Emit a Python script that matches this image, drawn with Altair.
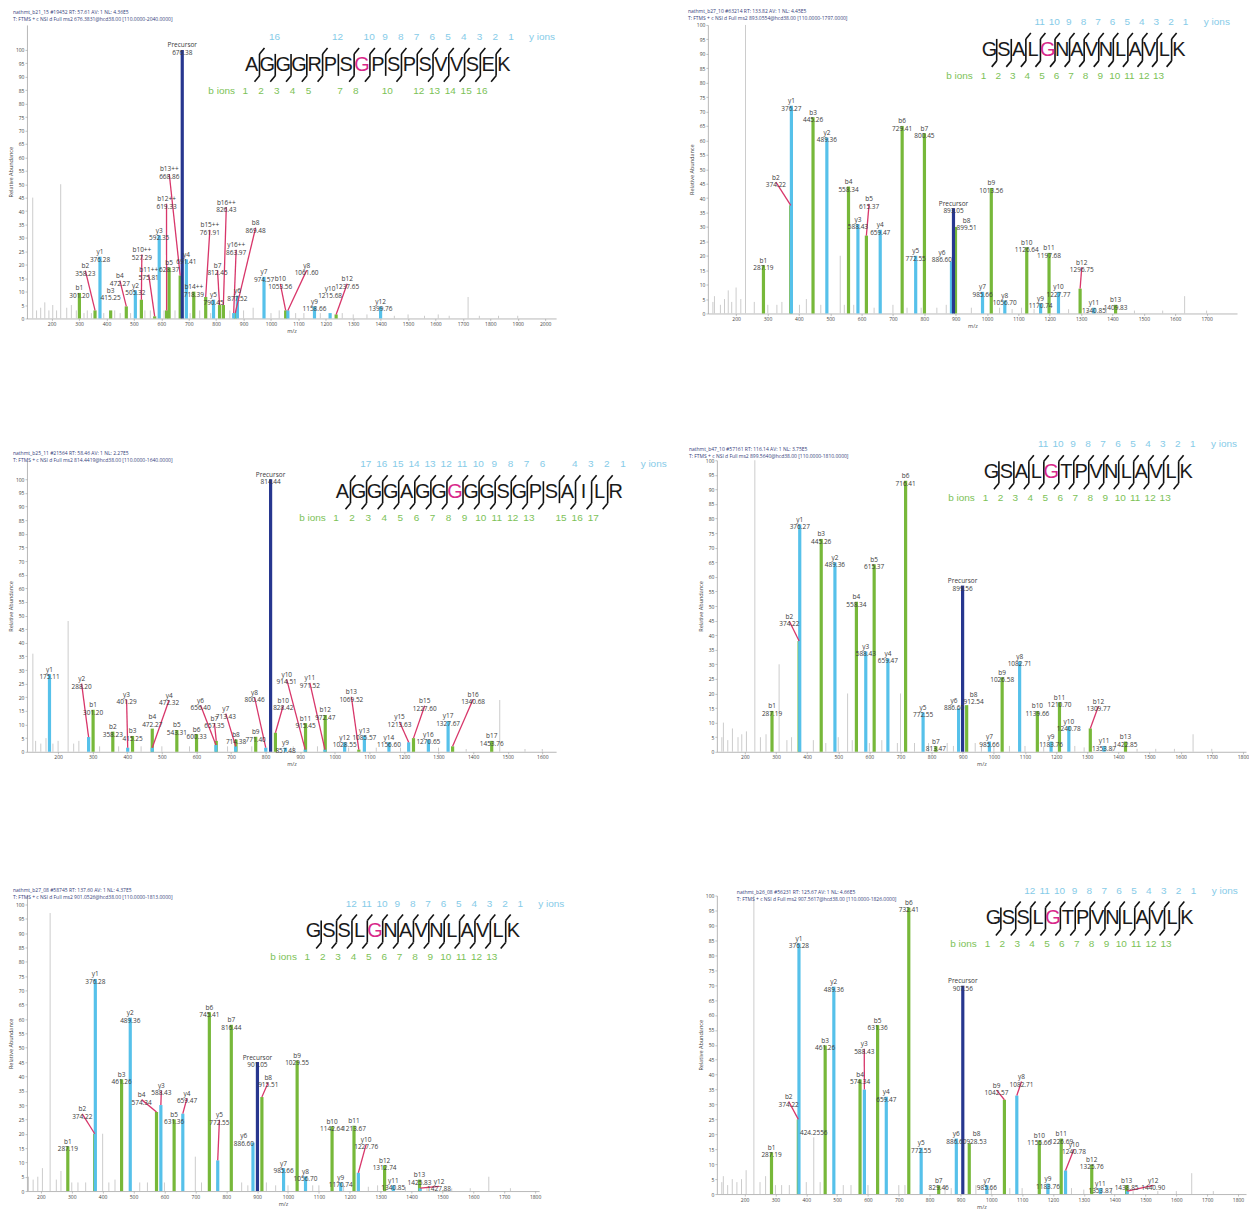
import altair as alt
import pandas as pd

GREEN = "#77b83a"
BLUE = "#56c1ea"
NAVY = "#27378f"
GREY = "#cccccc"
RED = "#d8366a"
SITE = "#d8288a"
TXT = "#3a3a3a"
HEADC = "#34407a"
NUM_Y = "#86cbe8"
NUM_B = "#7cc257"

# ---------------- Panel 1 ----------------
P1_HEAD = ["nathmt_b21_15 #19452  RT: 57.61  AV: 1  NL: 4.36E5",
           "T: FTMS + c NSI d Full ms2 676.3831@hcd38.00 [110.0000-2040.0000]"]
P1_SEQ = "AGGGRPSGPSPSVVSEK"
P1_SITE = 8
P1_B = [1, 2, 3, 4, 5, 7, 8, 10, 12, 13, 14, 15, 16]
P1_Y = [16, 12, 10, 9, 8, 7, 6, 5, 4, 3, 2, 1]
P1_ION = ["b1", "b2", "y1", "b3", "b4", "y2", "b10++", "b11++", "y3", "b12++", "b5", "b13++", "Precursor",
          "y4", "b14++", "b15++", "y5", "b7", "b16++", "y16++", "y6", "b8", "y7", "b10", "y8", "y9", "y10",
          "b12", "y12"]
P1_MZ = [301.20, 358.23, 376.28, 415.25, 472.27, 505.32, 527.29, 575.81, 592.35, 619.33, 628.37, 668.86, 676.38,
         691.41, 718.39, 761.91, 790.45, 812.45, 826.43, 863.97, 877.52, 869.48, 974.57, 1053.56, 1061.60, 1158.66,
         1215.68, 1237.65, 1399.76]
P1_INT = [9.5, 3, 23, 3, 4.5, 10.5, 7, 0.8, 31, 3, 19, 16, 100, 22, 10, 8, 7, 5, 5, 2, 8.5, 2, 15.5, 3, 3, 4.5,
          2, 1.5, 4.5]
P1_NOISE_MZ = [131, 145, 160, 175, 190, 204, 218, 233, 255, 272, 290, 318, 330, 345, 390, 430, 450, 488, 540, 560,
               610, 650, 705, 740, 780, 850, 900, 935, 1000, 1030, 1090, 1120, 1180, 1260, 1300, 1350, 1450, 1500,
               1560, 1610, 1650, 1719, 1760, 1830, 1900]
P1_NOISE_INT = [45, 3, 4, 6, 3, 5, 3, 50, 4, 5, 3, 2, 3, 2, 2, 3, 2, 2, 3, 3, 3, 3, 2, 3, 2, 3, 3, 4, 2, 3, 2, 2,
                2, 2, 1.5, 1.5, 1, 1.5, 1, 1.5, 1, 8, 1, 1, 1]
P1_MOVED = {"b2": (323, 17.8), "b3": (415.25, 8.7, False), "b4": (449, 14.1), "b10++": (529, 23.8),
            "b11++": (554, 16.3), "b12++": (619, 42.7), "b13++": (629, 53.8), "b15++": (777, 33),
            "b7": (805, 18), "b16++": (837, 41.5), "y16++": (873, 25.6), "b8": (944, 33.8),
            "b10": (1034, 12.9), "y8": (1130, 17.9), "y10": (1215.68, 9.4, False), "b12": (1278, 12.9)}
P1_NOTE_MZ, P1_NOTE_INT, P1_NOTE_TEXT = [], [], []

# ---------------- Panel 2 ----------------
P2_HEAD = ["nathmt_b27_10 #63214  RT: 133.82  AV: 1  NL: 4.45E5",
           "T: FTMS + c NSI d Full ms2 893.0554@hcd38.00 [110.0000-1797.0000]"]
P2_SEQ = "GSALGNAVNLAVLK"
P2_SITE = 5
P2_B = list(range(1, 14))
P2_Y = list(range(11, 0, -1))
P2_ION = ["b1", "b2", "y1", "b3", "y2", "b4", "y3", "b5", "y4", "b6", "y5", "b7", "y6", "Precursor", "b8", "y7",
          "b9", "y8", "b10", "y9", "b11", "y10", "b12", "y11", "b13"]
P2_MZ = [287.19, 374.22, 376.27, 445.26, 489.36, 558.34, 588.43, 615.37, 659.47, 729.41, 772.55, 800.45, 886.60,
         893.05, 899.51, 985.66, 1013.56, 1056.70, 1126.64, 1170.74, 1197.68, 1227.77, 1296.75, 1340.85, 1409.83]
P2_INT = [16.7, 37.5, 72, 68, 61, 44, 31, 27, 29, 65, 20, 62.5, 18, 36.5, 30, 7.5, 43.5, 4.5, 23, 3.5, 21, 7.5,
          8.6, 2, 3]
P2_NOISE_MZ = [126, 131, 150, 163, 175, 186, 200, 215, 230, 258, 301, 330, 346, 402, 424, 470, 532, 545, 575, 640,
               700, 745, 790, 840, 870, 950, 1040, 1080, 1110, 1150, 1260, 1320, 1380, 1470, 1560, 1630, 1700]
P2_NOISE_INT = [4, 6, 3, 5, 8, 4, 9, 5, 100, 4, 3, 3, 4, 3, 5, 3, 20, 3, 3, 2, 3, 2, 2, 2, 3, 2, 2, 1.5, 2, 1.5,
                1.5, 1, 1.5, 1, 1, 6, 1]
P2_MOVED = {"b2": (327, 45.5), "b5": (624, 38), "y6": (856, 19.5, False), "b8": (935, 30.5, False),
            "b12": (1302, 16)}
P2_NOTE_MZ, P2_NOTE_INT, P2_NOTE_TEXT = [], [], []

# ---------------- Panel 3 ----------------
P3_HEAD = ["nathmt_b25_11 #21564  RT: 58.46  AV: 1  NL: 2.27E5",
           "T: FTMS + c NSI d Full ms2 814.4419@hcd38.00 [110.0000-1640.0000]"]
P3_SEQ = "AGGGAGGGGGSGPSAILR"
P3_SITE = 8
P3_B = list(range(1, 14)) + [15, 16, 17]
P3_Y = list(range(17, 5, -1)) + [4, 3, 2, 1]
P3_ION = ["y1", "y2", "b1", "b2", "y3", "b3", "b4", "y4", "b5", "b6", "y6", "b7", "y7", "b8", "b9", "y8",
          "Precursor", "b10", "y9", "y10", "b11", "y11", "b12", "y12", "b13", "y13", "y14", "y15", "b15", "y16",
          "y17", "b16", "b17"]
P3_MZ = [175.11, 288.20, 301.20, 358.23, 401.29, 415.25, 472.27, 472.32, 543.31, 600.33, 656.40, 657.35, 713.43,
         714.38, 771.40, 800.46, 814.44, 828.42, 857.48, 914.51, 915.45, 971.52, 972.47, 1028.55, 1069.52,
         1085.57, 1156.60, 1213.63, 1227.60, 1270.65, 1327.67, 1340.68, 1453.76]
P3_INT = [28.5, 5.4, 15.4, 7.4, 1.5, 5.8, 8.5, 1.5, 8, 6.5, 2.5, 4, 2, 4.5, 5.5, 1.5, 100, 7, 1.5, 0.8, 10.5,
          0.8, 13.5, 3.5, 0.8, 6, 3.5, 3.5, 5, 4.5, 11.3, 2, 4]
P3_NOISE_MZ = [127, 135, 150, 165, 185, 200, 229, 245, 260, 320, 375, 440, 500, 580, 690, 760, 880, 950, 1040,
               1120, 1190, 1300, 1380, 1477, 1550, 1600]
P3_NOISE_INT = [36, 4, 3, 5, 3, 4, 48, 3, 4, 2, 2, 2, 2, 2, 2, 2, 2, 2, 1.5, 1.5, 1.5, 1.5, 1, 19, 1, 1]
P3_MOVED = {"y2": (268, 25), "y3": (398, 19.2), "y4": (521, 19), "b4": (472.27, 11, False), "y6": (612, 17.1),
            "b7": (652, 10.5), "y7": (685, 14), "y8": (768, 20), "b10": (851, 17), "y10": (861, 26.6),
            "y11": (928, 25.3), "b13": (1048, 20.2), "y15": (1187, 11), "b15": (1260, 16.9),
            "b16": (1400, 19.3)}
P3_NOTE_MZ, P3_NOTE_INT, P3_NOTE_TEXT = [], [], []

# ---------------- Panel 4 ----------------
P4_HEAD = ["nathmt_b47_10 #57161  RT: 116.14  AV: 1  NL: 3.75E5",
           "T: FTMS + c NSI d Full ms2 899.5640@hcd38.00 [110.0000-1810.0000]"]
P4_SEQ = "GSALGTPVNLAVLK"
P4_SITE = 5
P4_B = list(range(1, 14))
P4_Y = list(range(11, 0, -1))
P4_ION = ["b1", "b2", "y1", "b3", "y2", "b4", "y3", "b5", "y4", "b6", "y5", "b7", "y6", "Precursor", "b8", "y7",
          "b9", "y8", "b10", "y9", "b11", "y10", "b12", "y11", "b13"]
P4_MZ = [287.19, 374.22, 376.27, 445.26, 489.36, 558.34, 588.43, 615.37, 659.47, 716.41, 772.55, 813.47, 886.60,
         899.56, 912.54, 985.66, 1026.58, 1082.71, 1139.66, 1183.76, 1210.70, 1240.78, 1309.77, 1353.87, 1422.85]
P4_INT = [14, 38, 78, 73, 65, 51.5, 34.4, 64.3, 32, 93, 13.5, 1.9, 14.9, 57, 16, 3.5, 25.6, 31, 14, 3.5, 17,
          8.8, 8, 2, 3.5]
P4_NOISE_MZ = [126, 131, 145, 160, 178, 190, 205, 232, 250, 268, 310, 335, 350, 420, 460, 500, 530, 545, 600,
               640, 690, 700, 745, 790, 850, 870, 940, 960, 1000, 1050, 1100, 1160, 1260, 1290, 1380, 1460, 1520,
               1580, 1640, 1700]
P4_NOISE_INT = [5, 10, 4, 8, 5, 6, 7, 100, 5, 6, 30, 4, 5, 4, 3, 5, 20, 4, 3, 4, 3, 20, 3, 3, 3, 2, 3, 2, 2, 2,
                2, 2, 2, 1.5, 1.5, 1, 1, 1, 6, 1]
P4_MOVED = {"b2": (343, 44.8), "y6": (872, 16, False), "b8": (935, 18, False), "b12": (1336, 15.7)}
P4_NOTE_MZ, P4_NOTE_INT, P4_NOTE_TEXT = [], [], []

# ---------------- Panel 5 ----------------
P5_HEAD = ["nathmt_b27_08 #58745  RT: 137.60  AV: 1  NL: 4.37E5",
           "T: FTMS + c NSI d Full ms2 901.0526@hcd38.00 [110.0000-1813.0000]"]
P5_SEQ = "GSSLGNAVNLAVLK"
P5_SITE = 5
P5_B = list(range(1, 14))
P5_Y = list(range(12, 0, -1))
P5_ION = ["b1", "b2", "y1", "b3", "y2", "b4", "y3", "b5", "y4", "b6", "y5", "b7", "y6", "Precursor", "b8", "y7",
          "b9", "y8", "b10", "y9", "b11", "y10", "b12", "y11", "b13", "y12"]
P5_MZ = [287.19, 374.22, 376.28, 461.26, 489.36, 574.34, 588.43, 631.36, 659.47, 745.41, 772.55, 816.44, 886.60,
         901.05, 915.51, 985.66, 1029.55, 1056.70, 1142.64, 1170.74, 1213.67, 1227.76, 1312.74, 1340.85,
         1425.83, 1427.88]
P5_INT = [15.6, 20, 74, 39, 60.5, 27.6, 30, 25, 27, 62.4, 10.7, 58, 16.9, 45, 32.8, 8, 45.6, 5.1, 22.6, 3, 22.8,
          6.4, 9, 2, 4, 1]
P5_NOISE_MZ = [160, 175, 190, 205, 230, 250, 265, 300, 320, 345, 400, 420, 440, 520, 545, 600, 700,
               720, 770, 850, 870, 930, 960, 1000, 1080, 1100, 1180, 1260, 1290, 1380, 1450, 1530, 1590, 1650, 1720]
P5_NOISE_INT = [5, 4, 5, 8, 97, 4, 7, 3, 3, 3, 20, 3, 4, 3, 3, 3, 12, 3, 3, 3, 2, 3, 2, 2, 2, 2, 2, 1.5,
                2, 1.5, 1.5, 1, 1, 5, 1]
P5_MOVED = {"b2": (334, 26.9), "b4": (526, 31.9), "y3": (590, 35.1), "y4": (673, 32.4), "y5": (778, 24.9),
            "y6": (857, 17.5, False), "b8": (936, 37.9), "y10": (1253, 16.3), "y12": (1489, 1.6)}
P5_NOTE_MZ, P5_NOTE_INT, P5_NOTE_TEXT = [], [], []

# ---------------- Panel 6 ----------------
P6_HEAD = ["nathmt_b26_08 #56231  RT: 125.67  AV: 1  NL: 4.66E5",
           "T: FTMS + c NSI d Full ms2 907.5617@hcd38.00 [110.0000-1826.0000]"]
P6_SEQ = "GSSLGTPVNLAVLK"
P6_SITE = 5
P6_B = list(range(1, 14))
P6_Y = list(range(12, 0, -1))
P6_ION = ["b1", "b2", "y1", "b3", "y2", "b4", "y3", "b5", "y4", "b6", "y5", "b7", "y6", "Precursor", "b8", "y7",
          "b9", "y8", "b10", "y9", "b11", "y10", "b12", "y11", "b13", "y12"]
P6_MZ = [287.19, 374.22, 376.28, 461.26, 489.36, 574.34, 588.43, 631.36, 659.47, 732.41, 772.55, 829.46, 886.60,
         907.56, 928.53, 985.66, 1042.57, 1082.71, 1155.66, 1183.76, 1226.69, 1240.78, 1325.76, 1353.87,
         1438.85, 1440.90]
P6_INT = [14, 25, 84, 49.8, 69.5, 38.4, 35, 56.6, 32.6, 96, 15.5, 2.9, 18.6, 69.8, 17, 3, 31.6, 33, 18, 3.5,
          18.6, 7.9, 9.9, 2, 3, 1]
P6_NOISE_MZ = [126, 131, 145, 160, 175, 190, 205, 230, 250, 268, 300, 320, 345, 400, 424.26, 445, 520, 545, 600,
               700, 720, 770, 850, 870, 950, 1000, 1060, 1100, 1180, 1260, 1300, 1390, 1460, 1540, 1600, 1650,
               1720]
P6_NOISE_INT = [4, 6, 3, 5, 4, 5, 8, 100, 4, 6, 3, 3, 3, 4, 19, 4, 3, 3, 3, 3, 3, 3, 3, 2, 3, 2, 2, 2, 2, 2, 1.5,
                1.5, 1, 1, 1, 7, 1]
P6_MOVED = {"b2": (343, 31), "y3": (588, 48.7), "b8": (952, 18.5, False), "b9": (1017, 34.8),
            "y8": (1098, 37.7), "y10": (1268, 15), "y12": (1525, 2.9)}
P6_NOTE_MZ, P6_NOTE_INT, P6_NOTE_TEXT = [424.26], [19], ["424.2556"]

# ---------------- layout (pixels, relative to each plot area) ----------------
LAYOUT = [
    dict(w=530, xmin=110, xmax=2040, ymax=109.3, h=294, x0=225, cy=40, step=15.8, hx=-14, hy=-15),
    dict(w=530, xmin=110, xmax=1797, ymax=100, h=289, x0=282, cy=25, step=14.6, hx=-20, hy=-16),
    dict(w=530, xmin=110, xmax=1640, ymax=107, h=292, x0=316, cy=32, step=16.1, hx=-14, hy=-9),
    dict(w=530, xmin=110, xmax=1810, ymax=100, h=292, x0=275, cy=12, step=15.0, hx=-28, hy=-13),
    dict(w=513, xmin=155, xmax=1813, ymax=103.1, h=296, x0=287, cy=36, step=15.4, hx=-14, hy=-8),
    dict(w=530, xmin=110, xmax=1826, ymax=100, h=299, x0=277, cy=23, step=14.9, hx=20, hy=-6),
]


def build_panel(head, seq, site, b_obs, y_obs, ions, mzs, ints, nmz, nint, moved, note_mz, note_int,
                note_txt, lay):
    W, xmin, xmax, ymax, h = lay["w"], lay["xmin"], lay["xmax"], lay["ymax"], lay["h"]
    xs = alt.Scale(domain=[xmin, xmax], nice=False, zero=False)
    ys = alt.Scale(domain=[0, ymax], nice=False, zero=False)
    xaxis = alt.Axis(values=list(range(200, int(xmax) + 1, 100)), title="m/z", format="d",
                     labelOverlap=False)
    yaxis = alt.Axis(values=list(range(0, 101, 5)), title="Relative Abundance", labelOverlap=False)

    def ex(f):
        return alt.X(f, type="quantitative", scale=xs, axis=xaxis)

    def ey(f):
        return alt.Y(f, type="quantitative", scale=ys, axis=yaxis)

    peaks = pd.DataFrame({"ion": ions, "mz": mzs, "inten": ints})
    peaks["kind"] = ["p" if i.startswith("P") else i[0] for i in ions]
    peaks["base"] = 0.0
    lx, ly, ln = [], [], []
    for i, m, v in zip(ions, mzs, ints):
        if i in moved:
            t = moved[i]
            lx.append(t[0])
            ly.append(t[1])
            ln.append(t[2] if len(t) > 2 else True)
        else:
            lx.append(m)
            ly.append(v)
            ln.append(False)
    peaks["lx"], peaks["ly"], peaks["line"] = lx, ly, ln
    peaks["text"] = [f"{i}\n{m:.2f}" for i, m in zip(ions, mzs)]

    labels = pd.concat([peaks[["lx", "ly", "text"]],
                        pd.DataFrame({"lx": note_mz, "ly": note_int, "text": note_txt})],
                       ignore_index=True)
    noise = pd.DataFrame({"mz": nmz, "inten": nint})
    noise["base"] = 0.0

    def bars(df, color):
        return alt.Chart(df).mark_rule(color=color, strokeWidth=3.2).encode(
            x=ex("mz"), y=ey("inten"), y2="base")

    grey = alt.Chart(noise).mark_rule(color=GREY, strokeWidth=1).encode(x=ex("mz"), y=ey("inten"), y2="base")
    layers = [grey,
              bars(peaks[peaks.kind == "b"], GREEN),
              bars(peaks[peaks.kind == "y"], BLUE),
              bars(peaks[peaks.kind == "p"], NAVY)]
    lines = peaks[peaks.line]
    if len(lines):
        layers.append(alt.Chart(lines).mark_rule(color=RED, strokeWidth=1.3).encode(
            x=ex("lx"), x2="mz", y=ey("ly"), y2="inten"))
    layers.append(alt.Chart(labels).mark_text(
        fontSize=6.5, lineBreak="\n", lineHeight=7.5, baseline="bottom", dy=-1.5, color=TXT,
        font="Open Sans").encode(x=ex("lx"), y=ey("ly"), text="text"))
    data_layer = alt.layer(*layers)

    # ---- peptide sequence graphic, header (pixel coordinates) ----
    sx = alt.Scale(domain=[0, W], nice=False, zero=False)
    sy = alt.Scale(domain=[0, h], nice=False, zero=False, reverse=True)

    def px(f):
        return alt.X(f, type="quantitative", scale=sx, axis=None)

    def py(f):
        return alt.Y(f, type="quantitative", scale=sy, axis=None)

    n = len(seq)
    x0, cy, st = lay["x0"], lay["cy"], lay["step"]
    letters = pd.DataFrame({
        "x": [x0 + k * st for k in range(n)],
        "y": [cy] * n,
        "t": list(seq),
        "c": [SITE if k + 1 == site else "#1a1a1a" for k in range(n)],
    })
    segs = []
    nums = []
    half, hk = 11, 6
    for g in range(1, n):
        gx = x0 + (g - 0.5) * st
        segs.append((gx, cy - half, gx, cy + half))
        if (n - g) in y_obs:
            segs.append((gx, cy - half, gx + 5, cy - half - hk))
            nums.append((gx + 0.95 * st, cy - 28, str(n - g), NUM_Y))
        if g in b_obs:
            segs.append((gx, cy + half, gx - 5, cy + half + hk))
            nums.append((gx - 0.9 * st, cy + 26, str(g), NUM_B))
    nums.append((x0 - 30, cy + 26, "b ions", NUM_B))
    nums.append((x0 + (n - 1) * st + 38, cy - 28, "y ions", NUM_Y))
    segs = pd.DataFrame(segs, columns=["x", "y", "x2", "y2"])
    nums = pd.DataFrame(nums, columns=["x", "y", "t", "c"])
    hdr = pd.DataFrame({"x": [lay["hx"]] * 2, "y": [lay["hy"], lay["hy"] + 7], "t": head})

    seg_ch = alt.Chart(segs).mark_rule(color="#111111", strokeWidth=1.6).encode(
        x=px("x"), y=py("y"), x2="x2", y2="y2")
    let_ch = alt.Chart(letters).mark_text(font="Liberation Sans", fontSize=20, align="center",
                                          baseline="middle").encode(
        x=px("x"), y=py("y"), text="t", color=alt.Color("c:N", scale=None))
    num_ch = alt.Chart(nums).mark_text(font="Liberation Sans", fontSize=10, align="center",
                                       baseline="middle").encode(
        x=px("x"), y=py("y"), text="t", color=alt.Color("c:N", scale=None))
    hdr_ch = alt.Chart(hdr).mark_text(font="Open Sans", fontSize=5, align="left", baseline="top",
                                      color=HEADC).encode(x=px("x"), y=py("y"), text="t")
    pix_layer = alt.layer(seg_ch, let_ch, num_ch, hdr_ch)

    return alt.layer(data_layer, pix_layer).resolve_scale(
        x="independent", y="independent").properties(width=W, height=h)


p1 = build_panel(P1_HEAD, P1_SEQ, P1_SITE, P1_B, P1_Y, P1_ION, P1_MZ, P1_INT, P1_NOISE_MZ, P1_NOISE_INT,
                 P1_MOVED, P1_NOTE_MZ, P1_NOTE_INT, P1_NOTE_TEXT, LAYOUT[0])
p2 = build_panel(P2_HEAD, P2_SEQ, P2_SITE, P2_B, P2_Y, P2_ION, P2_MZ, P2_INT, P2_NOISE_MZ, P2_NOISE_INT,
                 P2_MOVED, P2_NOTE_MZ, P2_NOTE_INT, P2_NOTE_TEXT, LAYOUT[1])
p3 = build_panel(P3_HEAD, P3_SEQ, P3_SITE, P3_B, P3_Y, P3_ION, P3_MZ, P3_INT, P3_NOISE_MZ, P3_NOISE_INT,
                 P3_MOVED, P3_NOTE_MZ, P3_NOTE_INT, P3_NOTE_TEXT, LAYOUT[2])
p4 = build_panel(P4_HEAD, P4_SEQ, P4_SITE, P4_B, P4_Y, P4_ION, P4_MZ, P4_INT, P4_NOISE_MZ, P4_NOISE_INT,
                 P4_MOVED, P4_NOTE_MZ, P4_NOTE_INT, P4_NOTE_TEXT, LAYOUT[3])
p5 = build_panel(P5_HEAD, P5_SEQ, P5_SITE, P5_B, P5_Y, P5_ION, P5_MZ, P5_INT, P5_NOISE_MZ, P5_NOISE_INT,
                 P5_MOVED, P5_NOTE_MZ, P5_NOTE_INT, P5_NOTE_TEXT, LAYOUT[4])
p6 = build_panel(P6_HEAD, P6_SEQ, P6_SITE, P6_B, P6_Y, P6_ION, P6_MZ, P6_INT, P6_NOISE_MZ, P6_NOISE_INT,
                 P6_MOVED, P6_NOTE_MZ, P6_NOTE_INT, P6_NOTE_TEXT, LAYOUT[5])

row1 = alt.hconcat(p1, p2, spacing=152, bounds="flush")
row2 = alt.hconcat(p3, p4, spacing=161, bounds="flush")
row3 = alt.hconcat(p5, p6, spacing=178, bounds="flush")

# with flush bounds the nested rows count as zero-height, so spacing = row pitch
chart = alt.vconcat(row1, row2, row3, spacing=436, bounds="flush", padding=0).configure_view(
    strokeWidth=0
).configure_axis(
    labelFont="Open Sans", labelFontSize=5, labelColor="#444444",
    titleFont="Open Sans", titleFontSize=5.5, titleFontWeight="normal", titleColor="#444444",
    tickSize=2, tickWidth=0.5, tickColor="#888888", domainColor="#999999", domainWidth=0.7,
    labelPadding=1, titlePadding=2, grid=False
)

chart.save("out.html", embed_options={"renderer": "svg", "actions": False})
